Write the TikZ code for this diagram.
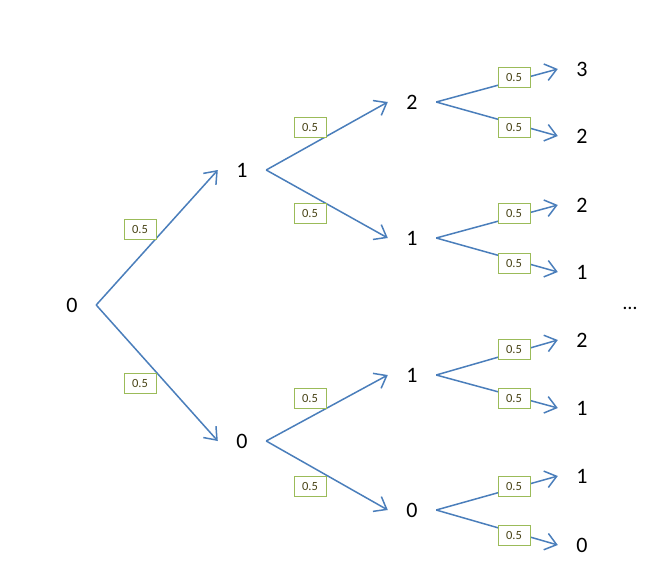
\documentclass[tikz,border=0pt]{standalone}
\usepackage{fontspec}
\setmainfont{Carlito}
\usetikzlibrary{arrows.meta}
\definecolor{lineblue}{HTML}{4A7EBB}
\definecolor{boxgreen}{HTML}{9BBB59}
\definecolor{valtext}{HTML}{4A4518}
\tikzset{
  st/.style={font=\fontsize{22}{26}\selectfont, minimum width=48pt, inner sep=0pt},
  arr/.style={draw=lineblue, line width=1.5pt, -{Straight Barb[length=11pt,width=17pt,line width=1.5pt]}},
  val/.style={draw=boxgreen, fill=white, line width=1pt, text=valtext, font=\fontsize{12.5}{14}\selectfont,
    minimum width=32pt, minimum height=20pt, inner sep=0pt}
}
\begin{document}
\begin{tikzpicture}[x=1pt,y=-1pt]
\useasboundingbox (0,0) rectangle (655,579);
% states
\node[st] (r)   at (72,305) {0};
\node[st] (a1)  at (242,170) {1};
\node[st] (a0)  at (242,441) {0};
\node[st] (b2)  at (412,102) {2};
\node[st] (b1u) at (412,238) {1};
\node[st] (b1l) at (412,375) {1};
\node[st] (b0)  at (412,510) {0};
\node[st] (c3)  at (582,69) {3};
\node[st] (c2a) at (582,136) {2};
\node[st] (c2b) at (582,205) {2};
\node[st] (c1a) at (582,272) {1};
\node[st] (c2c) at (582,340) {2};
\node[st] (c1b) at (582,408) {1};
\node[st] (c1c) at (582,476) {1};
\node[st] (c0)  at (582,545) {0};
\node[font=\fontsize{20}{22}\selectfont] (dots) at (630,308) {…};
% edges
\draw[arr] (r.east) -- (a1.west);
\draw[arr] (r.east) -- (a0.west);
\draw[arr] (a1.east) -- (b2.west);
\draw[arr] (a1.east) -- (b1u.west);
\draw[arr] (a0.east) -- (b1l.west);
\draw[arr] (a0.east) -- (b0.west);
\draw[arr] (b2.east) -- (c3.west);
\draw[arr] (b2.east) -- (c2a.west);
\draw[arr] (b1u.east) -- (c2b.west);
\draw[arr] (b1u.east) -- (c1a.west);
\draw[arr] (b1l.east) -- (c2c.west);
\draw[arr] (b1l.east) -- (c1b.west);
\draw[arr] (b0.east) -- (c1c.west);
\draw[arr] (b0.east) -- (c0.west);
% probabilities
\node[val] (p1)  at (140,229) {0.5};
\node[val] (p2)  at (140,383) {0.5};
\node[val] (p3)  at (310,127) {0.5};
\node[val] (p4)  at (310,213) {0.5};
\node[val] (p5)  at (310,398) {0.5};
\node[val] (p6)  at (310,486) {0.5};
\node[val] (p7)  at (514,77) {0.5};
\node[val] (p8)  at (514,127) {0.5};
\node[val] (p9)  at (514,213) {0.5};
\node[val] (p10) at (514,263) {0.5};
\node[val] (p11) at (514,349) {0.5};
\node[val] (p12) at (514,398) {0.5};
\node[val] (p13) at (514,486) {0.5};
\node[val] (p14) at (514,535) {0.5};
\end{tikzpicture}
\end{document}
